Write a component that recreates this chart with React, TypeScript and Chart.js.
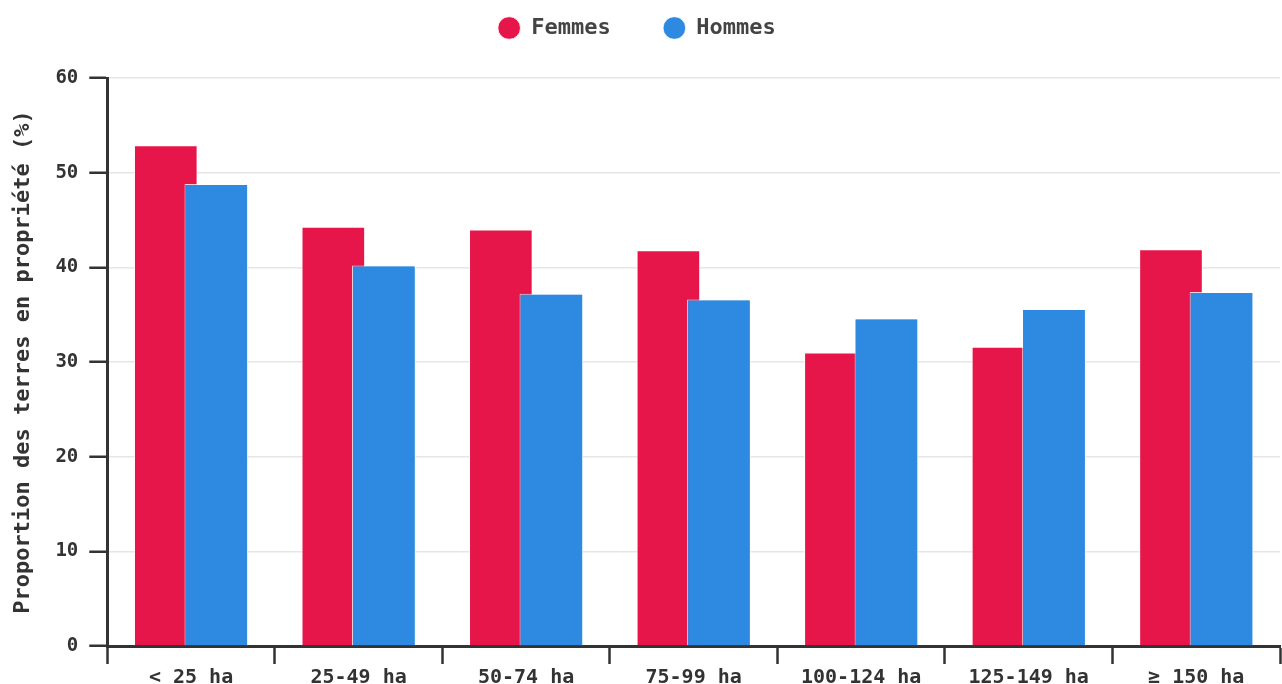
import React, { useEffect, useRef } from "react";
import { Chart, registerables } from "chart.js";

Chart.register(...registerables);

const categories = ["< 25 ha", "25-49 ha", "50-74 ha", "75-99 ha", "100-124 ha", "125-149 ha", "≥ 150 ha"];
const femmes = [52.9, 44.3, 44.0, 41.8, 31.0, 31.6, 41.9];
const hommes = [48.8, 40.2, 37.2, 36.6, 34.6, 35.6, 37.4];
const seriesNames = ["Femmes", "Hommes"];
const yTitle = "Proportion des terres en propriété (%)";

const RED = "#E6164A";
const BLUE = "#2E89E0";
const FONT = "'DejaVu Sans Mono', monospace";
const TEXT = "#333333";
const AXIS = "#333333";

export default function App() {
  const ref = useRef<HTMLCanvasElement | null>(null);
  useEffect(() => {
    if (!ref.current) return;
    const legendSpacer = {
      id: "legendSpacer",
      beforeInit(chart: any) {
        const orig = chart.legend.fit;
        chart.legend.fit = function () {
          orig.bind(chart.legend)();
          this.height += 33;
        };
      },
      beforeDraw(chart: any) {
        const lg = chart.legend;
        if (lg && !lg._shifted) {
          lg.left -= 8;
          lg.right -= 8;
          lg.top += 4;
          lg.bottom += 4;
          lg._shifted = true;
        }
      },
      afterLayout(chart: any) {
        if (chart.legend) chart.legend._shifted = false;
      },
    };
    const redrawTop = {
      id: "redrawTop",
      afterDatasetsDraw(chart: any) {
        const meta = chart.getDatasetMeta(1);
        if (meta && meta.controller) meta.controller.draw();
      },
    };
    const chart = new Chart(ref.current, {
      type: "bar",
      data: {
        labels: categories,
        datasets: [
          {
            label: seriesNames[0] + "   ",
            data: femmes,
            backgroundColor: RED,
            borderColor: "rgba(255,255,255,0.8)",
            borderWidth: 1,
            categoryPercentage: 0.603,
            barPercentage: 1.26,
          },
          {
            label: seriesNames[1],
            data: hommes,
            backgroundColor: BLUE,
            borderColor: "rgba(255,255,255,0.8)",
            borderWidth: 1,
            categoryPercentage: 0.603,
            barPercentage: 1.26,
          },
        ],
      },
      plugins: [legendSpacer, redrawTop],
      options: {
        animation: false,
        responsive: true,
        maintainAspectRatio: false,
        layout: { padding: { left: 10, right: 2, top: 0, bottom: -8 } },
        plugins: {
          tooltip: { enabled: false },
          legend: {
            display: true,
            position: "top",
            labels: {
              usePointStyle: true,
              pointStyle: "circle",
              boxWidth: 22,
              boxHeight: 16,
              padding: 13,
              color: "#444444",
              font: { family: FONT, size: 22, weight: "bold" },
            },
          },
        },
        scales: {
          x: {
            grid: {
              display: true,
              drawOnChartArea: false,
              drawTicks: true,
              tickLength: 18,
              tickColor: AXIS,
              tickWidth: 2.5,
              offset: true,
            },
            border: { display: true, color: AXIS, width: 3 },
            ticks: {
              color: TEXT,
              padding: 2,
              font: { family: FONT, size: 20, weight: "bold" },
              maxRotation: 0,
            },
          },
          y: {
            min: 0,
            max: 60,
            ticks: {
              stepSize: 10,
              color: TEXT,
              padding: 11,
              font: { family: FONT, size: 19, weight: "bold" },
            },
            grid: {
              color: "#e6e6e6",
              lineWidth: 1.5,
              tickLength: 18,
              tickColor: AXIS,
              tickWidth: 2.5,
            },
            border: { display: true, color: AXIS, width: 3 },
            title: {
              display: true,
              text: yTitle,
              color: TEXT,
              padding: { top: 0, bottom: 8 },
              font: { family: FONT, size: 22, weight: "bold" },
            },
          },
        },
      },
    });
    return () => chart.destroy();
  }, []);
  return (
    <div style={{ position: "fixed", left: 0, top: 0, width: 1282, height: 684, background: "#fff" }}>
      <canvas ref={ref} />
    </div>
  );
}
